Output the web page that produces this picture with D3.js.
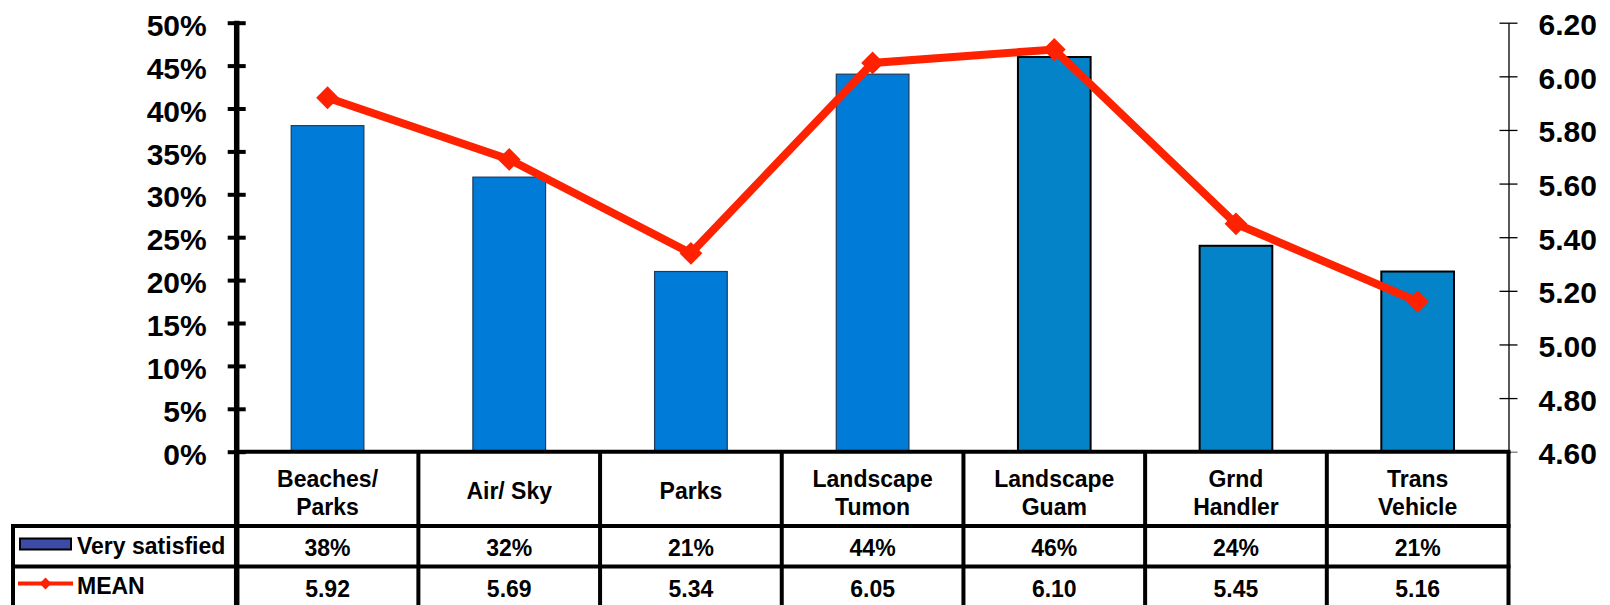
<!DOCTYPE html>
<html>
<head>
<meta charset="utf-8">
<script src="https://cdn.jsdelivr.net/npm/d3@7"></script>
<style>
  html, body { margin: 0; padding: 0; background: #fff; }
  svg { display: block; font-family: "Liberation Sans", Arial, sans-serif; font-weight: bold; }
</style>
</head>
<body>
<svg id="chart" width="1610" height="605"></svg>
<script>
// Satisfaction by attraction / service
const categories = [["Beaches/", "Parks"], ["Air/ Sky"], ["Parks"], ["Landscape", "Tumon"], ["Landscape", "Guam"], ["Grnd", "Handler"], ["Trans", "Vehicle"]];
const verySatisfied = [0.38, 0.32, 0.21, 0.44, 0.46, 0.24, 0.21];
const meanScore = [5.92, 5.69, 5.34, 6.05, 6.10, 5.45, 5.16];
const pctTicks = [0, 0.05, 0.10, 0.15, 0.20, 0.25, 0.30, 0.35, 0.40, 0.45, 0.50];
const meanTicks = [4.6, 4.8, 5.0, 5.2, 5.4, 5.6, 5.8, 6.0, 6.2];
const seriesNames = ["Very satisfied", "MEAN"];

const svg = d3.select("#chart");
const plotLeft = 236.7, plotRight = 1508.5, plotTop = 22.7, plotBase = 451.7;
const rowBottoms = [526, 566.5, 608];

const x = d3.scaleBand().domain(d3.range(categories.length)).range([plotLeft, plotRight]).paddingInner(0).paddingOuter(0);
const yPct = d3.scaleLinear().domain([0, 0.5]).range([plotBase, plotTop]);
const yMean = d3.scaleLinear().domain([4.6, 6.2]).range([plotBase, plotTop]);
const barW = x.bandwidth() * 0.4;
const cx = i => x(i) + x.bandwidth() / 2;

// bars
svg.append("g").selectAll("rect").data(verySatisfied).join("rect")
  .attr("x", (d, i) => x(i) + (x.bandwidth() - barW) / 2)
  .attr("y", d => yPct(d))
  .attr("width", barW)
  .attr("height", d => plotBase - yPct(d))
  .attr("fill", (d, i) => i < 4 ? "#007CD8" : "#0483C8")
  .attr("stroke", (d, i) => i < 4 ? "#1d3a5a" : "#000")
  .attr("stroke-width", (d, i) => i < 4 ? 1.2 : 2);

// right axis (mean score)
const rAxis = d3.axisRight(yMean).tickValues(meanTicks).tickFormat(d3.format(".2f")).tickSize(0);
const rg = svg.append("g").attr("transform", `translate(${plotRight},0)`).call(rAxis);
rg.select(".domain").attr("stroke", "#000").attr("stroke-width", 1.3);
rg.selectAll(".tick line").remove();
rg.selectAll(".tick").append("line").attr("x1", -9).attr("x2", 9).attr("stroke", d => d === 4.6 ? "#777" : "#000").attr("stroke-width", 1.3);
rg.selectAll(".tick text").attr("x", 30).attr("dy", "0.4em").attr("font-size", 30).attr("font-weight", "bold").attr("fill", "#000").attr("text-anchor", "start").attr("font-family", "Liberation Sans, Arial, sans-serif");

// mean line
const line = d3.line().x((d, i) => cx(i)).y(d => yMean(d));
svg.append("path").datum(meanScore).attr("d", line).attr("fill", "none").attr("stroke", "#FF2200").attr("stroke-width", 8).attr("stroke-linejoin", "miter");
const diamond = d3.symbol().type(d3.symbolSquare).size(260);
svg.append("g").selectAll("path").data(meanScore).join("path")
  .attr("d", diamond)
  .attr("transform", (d, i) => `translate(${cx(i)},${yMean(d)}) rotate(45)`)
  .attr("fill", "#FF2200");

// left axis (percentage)
const lAxis = d3.axisLeft(yPct).tickValues(pctTicks).tickFormat(d3.format(".0%")).tickSize(0);
const lg = svg.append("g").attr("transform", `translate(${plotLeft},0)`).call(lAxis);
lg.select(".domain").remove();
lg.append("line").attr("y1", plotTop - 2).attr("y2", rowBottoms[2]).attr("stroke", "#000").attr("stroke-width", 5.5);
lg.selectAll(".tick line").remove();
lg.selectAll(".tick").append("line").attr("x1", -9).attr("x2", 9).attr("stroke", "#000").attr("stroke-width", 4);
lg.selectAll(".tick text").attr("x", -30).attr("dy", "0.42em").attr("font-size", 30).attr("font-weight", "bold").attr("fill", "#000").attr("font-family", "Liberation Sans, Arial, sans-serif");

// data table
const tbl = svg.append("g");
const lineStyle = s => s.attr("stroke", "#000").attr("stroke-width", 4);
tbl.append("line").attr("x1", plotLeft).attr("x2", plotRight + 2).attr("y1", plotBase).attr("y2", plotBase).call(lineStyle);
tbl.append("line").attr("x1", 11).attr("x2", plotRight + 2).attr("y1", rowBottoms[0]).attr("y2", rowBottoms[0]).call(lineStyle);
tbl.append("line").attr("x1", 11).attr("x2", plotRight + 2).attr("y1", rowBottoms[1]).attr("y2", rowBottoms[1]).call(lineStyle);
tbl.append("line").attr("x1", 13).attr("x2", 13).attr("y1", rowBottoms[0] - 2).attr("y2", 610).call(lineStyle);
tbl.selectAll("line.col").data(d3.range(1, categories.length + 1)).join("line").attr("class", "col")
  .attr("x1", i => i < categories.length ? x(i) : plotRight).attr("x2", i => i < categories.length ? x(i) : plotRight)
  .attr("y1", plotBase).attr("y2", 610).call(lineStyle);

tbl.selectAll("text.cat").data(categories).join("text").attr("class", "cat")
  .attr("x", (d, i) => cx(i)).attr("text-anchor", "middle").attr("font-size", 23)
  .each(function (d) {
    const t = d3.select(this);
    const y0 = d.length === 1 ? 499 : 487;
    d.forEach((s, k) => t.append("tspan").attr("x", t.attr("x")).attr("y", y0 + k * 28).text(s));
  });
tbl.selectAll("text.pct").data(verySatisfied).join("text").attr("class", "pct")
  .attr("x", (d, i) => cx(i)).attr("y", 556).attr("text-anchor", "middle").attr("font-size", 23)
  .text(d => d3.format(".0%")(d));
tbl.selectAll("text.mean").data(meanScore).join("text").attr("class", "mean")
  .attr("x", (d, i) => cx(i)).attr("y", 597).attr("text-anchor", "middle").attr("font-size", 23)
  .text(d => d3.format(".2f")(d));

// legend keys in the table's first column
tbl.append("rect").attr("x", 20).attr("y", 538.5).attr("width", 51).attr("height", 11).attr("fill", "#3B4BA6").attr("stroke", "#000").attr("stroke-width", 2);
tbl.append("text").attr("x", 77).attr("y", 554).attr("font-size", 23).text(seriesNames[0]);
tbl.append("line").attr("x1", 18).attr("x2", 73).attr("y1", 583.5).attr("y2", 583.5).attr("stroke", "#FF2200").attr("stroke-width", 4);
tbl.append("path").attr("d", d3.symbol().type(d3.symbolSquare).size(70)()).attr("transform", "translate(45.5,583.5) rotate(45)").attr("fill", "#FF2200");
tbl.append("text").attr("x", 77).attr("y", 594).attr("font-size", 23).text(seriesNames[1]);
</script>
</body>
</html>
